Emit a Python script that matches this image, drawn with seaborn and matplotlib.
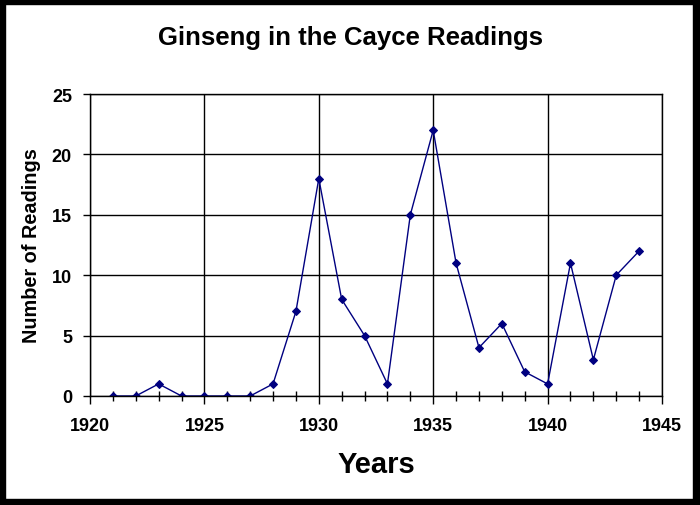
import matplotlib
matplotlib.use("Agg")
import matplotlib.pyplot as plt
import seaborn as sns
import pandas as pd
from matplotlib.patches import Rectangle
from matplotlib.ticker import MultipleLocator

years = [1921, 1922, 1923, 1924, 1925, 1926, 1927, 1928, 1929, 1930, 1931, 1932,
         1933, 1934, 1935, 1936, 1937, 1938, 1939, 1940, 1941, 1942, 1943, 1944]
readings = [0, 0, 1, 0, 0, 0, 0, 1, 7, 18, 8, 5,
            1, 15, 22, 11, 4, 6, 2, 1, 11, 3, 10, 12]
title = "Ginseng in the Cayce Readings"
xlabel = "Years"
ylabel = "Number of Readings"

df = pd.DataFrame({"year": years, "n": readings})

sns.set_theme(style="white")
plt.rcParams['font.family'] = ['Liberation Sans', 'DejaVu Sans']

W, H = 700, 506
fig = plt.figure(figsize=(W / 100, H / 100), dpi=100)
fig.patch.set_facecolor("white")

ax = fig.add_axes([90 / W, (H - 397) / H, (662 - 90) / W, (397 - 95) / H])
ax.set_facecolor("white")

sns.lineplot(data=df, x="year", y="n", ax=ax, color="#000080", linewidth=1,
             marker="D", markersize=4.5, markeredgecolor="#000080",
             markerfacecolor="#000080")

ax.set_xlim(1920, 1945)
ax.set_ylim(0, 25)
ax.xaxis.set_major_locator(MultipleLocator(5))
ax.xaxis.set_minor_locator(MultipleLocator(1))
ax.yaxis.set_major_locator(MultipleLocator(5))
ax.grid(True, which="major", color="black", linewidth=1)
ax.set_axisbelow(True)
for s in ax.spines.values():
    s.set_color("black")
    s.set_linewidth(1)
    s.set_visible(True)

ax.tick_params(axis="x", which="major", direction="out", length=6, width=1,
               color="black", labelsize=13, pad=9, bottom=True)
ax.tick_params(axis="x", which="minor", direction="inout", length=7, width=1,
               color="black", bottom=True)
ax.tick_params(axis="y", which="major", direction="out", length=5, width=1,
               color="black", labelsize=13, pad=8, left=True)
for lab in ax.get_xticklabels() + ax.get_yticklabels():
    lab.set_fontweight("bold")
    lab.set_color("black")

ax.set_xlabel(xlabel, fontsize=21, fontweight="bold", color="black", labelpad=12)
ax.set_ylabel(ylabel, fontsize=14.3, fontweight="bold", color="black", labelpad=8)
fig.text(350 / W, 1 - 38 / H, title, ha="center", va="center",
         fontsize=18.5, fontweight="bold", color="black")

# black frame around the figure
fig.add_artist(Rectangle((0, 0), 5 / W, 1, transform=fig.transFigure, color="black", zorder=10))
fig.add_artist(Rectangle((1 - 7 / W, 0), 7 / W, 1, transform=fig.transFigure, color="black", zorder=10))
fig.add_artist(Rectangle((0, 1 - 5 / H), 1, 5 / H, transform=fig.transFigure, color="black", zorder=10))
fig.add_artist(Rectangle((0, 0), 1, 6 / H, transform=fig.transFigure, color="black", zorder=10))

fig.savefig("out.png", dpi=100, facecolor="white")
